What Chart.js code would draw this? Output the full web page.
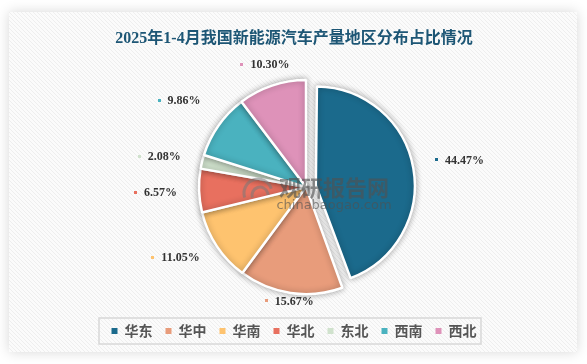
<!DOCTYPE html>
<html><head><meta charset="utf-8">
<script src="https://cdn.jsdelivr.net/npm/chart.js@4.4.1/dist/chart.umd.min.js"></script>
<style>html,body{margin:0;padding:0;background:#fff;}#wrap{width:587px;height:364px;position:relative}canvas{display:block}</style>
</head><body><div id="wrap"><canvas id="c" width="587" height="364"></canvas></div>
<script>
const regions = ['华东','华中','华南','华北','东北','西南','西北'];
const shares = [44.47, 15.67, 11.05, 6.57, 2.08, 9.86, 10.30];
const colors = ['#1b6a8c','#e89c7b','#fec36f','#e8705f','#d0e2cd','#4ab2bf','#de92b9'];
const titleText = '2025年1-4月我国新能源汽车产量地区分布占比情况';
const watermark = ['观研报告网', 'chinabaogao.com'];

// style constants (not data)
const sliceOffsets = [40, 0, 0, 0, 0, 0, 0];
const sliceShrink = [8, 0, 0, 0, 0, 0, 0];
const W = 587, H = 364;
const PIE_SHIFT_X = 12;

function radiusGrowth(el, i) {
  // Chart.js enlarges an offset arc's radius by offset/4 * (1 - sin(circumference))
  const circ = el.endAngle - el.startAngle;
  const fix = 1 - Math.sin(Math.min(Math.PI, circ));
  return (sliceOffsets[i] / 4) * fix;
}

const panelPlugin = {
  id: 'panel',
  beforeDraw(chart) {
    const ctx = chart.ctx;
    ctx.save();
    ctx.fillStyle = '#fff';
    ctx.fillRect(0, 0, W, H);
    const px = 9, py = 12, pw = 568, ph = 340;
    ctx.shadowColor = 'rgba(0,0,0,0.16)';
    ctx.shadowBlur = 12;
    ctx.fillStyle = '#fbfbfb';
    ctx.fillRect(px, py, pw, ph);
    ctx.shadowColor = 'transparent';
    ctx.shadowBlur = 0;
    ctx.beginPath();
    ctx.rect(px, py, pw, ph);
    ctx.clip();
    ctx.strokeStyle = 'rgba(0,0,0,0.05)';
    ctx.lineWidth = 1;
    for (let x = px - ph; x < px + pw; x += 4) {
      ctx.beginPath();
      ctx.moveTo(x, py);
      ctx.lineTo(x + ph, py + ph);
      ctx.stroke();
    }
    ctx.restore();
  },
  afterLayout(chart) {
    chart.chartArea.left += PIE_SHIFT_X;
    chart.chartArea.right += PIE_SHIFT_X;
  },
  afterDatasetUpdate(chart, args) {
    const meta = chart.getDatasetMeta(args.index);
    meta.data.forEach((el, i) => {
      if (sliceShrink[i]) el.outerRadius = el.outerRadius - sliceShrink[i] - radiusGrowth(el, i);
    });
  },
  beforeDatasetsDraw(chart) {
    const ctx = chart.ctx;
    ctx.save();
    ctx.shadowColor = 'rgba(0,0,0,0.32)';
    ctx.shadowBlur = 6;
  },
  afterDatasetsDraw(chart) {
    const ctx = chart.ctx;
    ctx.restore();
    const meta = chart.getDatasetMeta(0);
    ctx.save();
    ctx.font = 'bold 12px "Liberation Serif", serif';
    ctx.textBaseline = 'middle';
    meta.data.forEach((el, i) => {
      const p = el.getProps(['x','y','startAngle','endAngle','outerRadius'], true);
      const mid = (p.startAngle + p.endAngle) / 2;
      const s = Math.sin(mid), c = Math.cos(mid);
      let r = p.outerRadius + radiusGrowth(p, i) + sliceOffsets[i] / 4 + 22;
      if (s > 0) r -= 14 * Math.pow(s, 4);
      const ax = p.x + c * r;
      const ay = p.y + s * r - (s < -0.4 && c < -0.4 ? 12 : 0) - (c > 0.9 ? 4 : 0) + (Math.abs(s) < 0.1 ? 2 : 0);
      const txt = shares[i].toFixed(2) + '%';
      const tw = ctx.measureText(txt).width;
      const total = 3 + 7 + tw;
      let sx;
      if (Math.abs(c) < 0.4) sx = ax - total / 2;
      else if (c > 0) sx = ax;
      else sx = ax - total;
      ctx.fillStyle = colors[i];
      ctx.fillRect(Math.round(sx), Math.round(ay - 2), 3, 3);
      ctx.fillStyle = '#333';
      ctx.textAlign = 'left';
      ctx.fillText(txt, sx + 10, ay);
    });
    ctx.restore();
  },
  afterDraw(chart) {
    const ctx = chart.ctx;
    const lg = chart.legend;
    if (lg && lg.legendHitBoxes && lg.legendHitBoxes.length) {
      const hb = lg.legendHitBoxes;
      const first = hb[0], last = hb[hb.length - 1];
      const cy = first.top + first.height / 2;
      ctx.save();
      ctx.strokeStyle = '#d8d8d8';
      ctx.lineWidth = 1.5;
      ctx.strokeRect(first.left - 12.5, cy - 13, (last.left + last.width) - first.left + 17, 26);
      ctx.restore();
    }
    const el = chart.getDatasetMeta(0).data[0];
    const cx = el.x, cyy = el.y;
    ctx.save();
    ctx.fillStyle = 'rgba(80,80,80,0.62)';
    ctx.textAlign = 'center';
    ctx.textBaseline = 'middle';
    ctx.font = 'bold 22px "Noto Sans CJK SC"';
    ctx.fillText(watermark[0], cx + 28, cyy + 1);
    ctx.font = '13px "DejaVu Sans", sans-serif';
    ctx.fillText(watermark[1], cx + 28, cyy + 19);
    ctx.strokeStyle = 'rgba(120,120,120,0.55)';
    ctx.lineWidth = 3;
    ctx.beginPath(); ctx.arc(cx - 48, cyy + 6, 14, Math.PI * 0.9, Math.PI * 1.9); ctx.stroke();
    ctx.beginPath(); ctx.arc(cx - 46, cyy + 8, 8, Math.PI * 0.9, Math.PI * 2.0); ctx.stroke();
    ctx.restore();
  }
};

const ctx = document.getElementById('c').getContext('2d');
new Chart(ctx, {
  type: 'pie',
  data: {
    labels: regions,
    datasets: [{
      data: shares,
      backgroundColor: colors,
      borderColor: '#ffffff',
      borderWidth: 2.5,
      offset: sliceOffsets,
      radius: 107
    }]
  },
  options: {
    responsive: false,
    devicePixelRatio: 1,
    animation: false,
    layout: { padding: { top: 15, bottom: 16, left: 10, right: 9 } },
    plugins: {
      tooltip: { enabled: false },
      title: {
        display: true,
        text: titleText,
        color: '#1d5675',
        font: { size: 16, weight: 'bold', family: '"Liberation Serif", "Noto Sans CJK SC", serif' },
        padding: { top: 14, bottom: 15 }
      },
      legend: {
        position: 'bottom',
        labels: {
          boxWidth: 6,
          boxHeight: 6,
          padding: 13,
          color: '#555',
          font: { size: 14, weight: 'bold', family: '"Noto Sans CJK SC", sans-serif' },
          generateLabels(chart) {
            const base = Chart.overrides.pie.plugins.legend.labels.generateLabels(chart);
            return base.map(it => Object.assign(it, { lineWidth: 0, strokeStyle: 'rgba(0,0,0,0)' }));
          }
        }
      }
    }
  },
  plugins: [panelPlugin]
});
</script></body></html>
